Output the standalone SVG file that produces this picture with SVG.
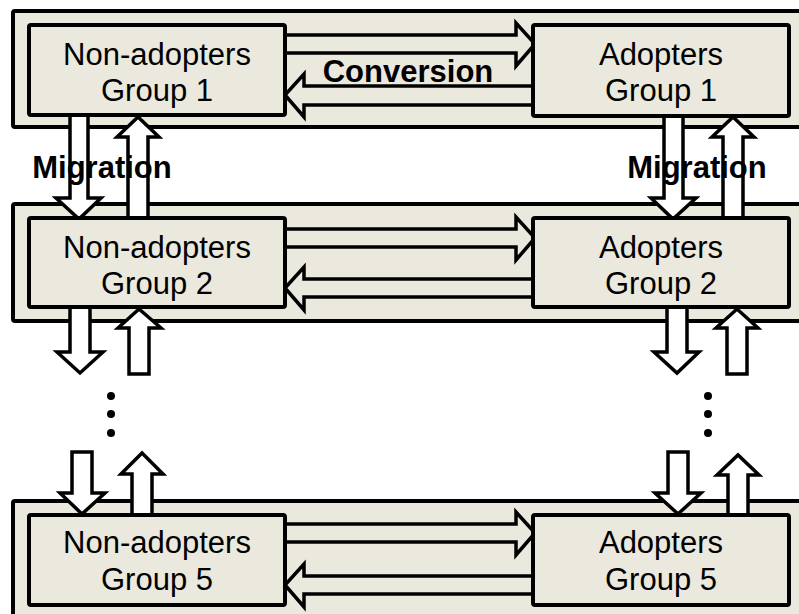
<svg xmlns="http://www.w3.org/2000/svg" width="799" height="614" viewBox="0 0 799 614">
<style>
.band{fill:#ebe8de;stroke:#000;stroke-width:4}
.box{fill:#ebe8de;stroke:#000;stroke-width:4}
.harr{fill:#ebe8de;stroke:#000;stroke-width:3.5;stroke-linejoin:miter}
.varr{fill:#fff;stroke:#000;stroke-width:3.5;stroke-linejoin:miter}
.t{font-family:"Liberation Sans",Arial,sans-serif;font-size:31px;fill:#000;text-anchor:middle}
.b{font-family:"Liberation Sans",Arial,sans-serif;font-size:31px;font-weight:bold;fill:#000;text-anchor:middle}
</style>
<rect width="799" height="614" fill="#fff"/>
<g id="bands">
<rect class="band" x="13" y="11" width="800" height="116" rx="2"/>
<rect class="band" x="13" y="204" width="800" height="117" rx="2"/>
<rect class="band" x="13" y="501" width="800" height="130" rx="2"/>
</g>
<g id="connectors">
<path class="harr" d="M285,35 H516 V23 L535,44 L516,66 V53 H285 Z"/>
<path class="harr" d="M533,86 H304 V74 L285,95 L304,117 V105 H533 Z"/>
<path class="harr" d="M285,229 H516 V217 L535,238 L516,260 V247 H285 Z"/>
<path class="harr" d="M533,279 H304 V267 L285,288 L304,310 V297 H533 Z"/>
<path class="harr" d="M285,524 H516 V512 L535,533 L516,555 V542 H285 Z"/>
<path class="harr" d="M533,576 H304 V564 L285,585 L304,607 V594 H533 Z"/>
<path class="varr" d="M70,115 V198 H56 L79,219 L101,198 H88 V115 Z"/>
<path class="varr" d="M128,219 V137 H117 L138,117 L159,137 H148 V219 Z"/>
<path class="varr" d="M664,116 V198 H651 L673,219 L696,198 H683 V116 Z"/>
<path class="varr" d="M723,218 V137 H712 L733,117 L754,137 H743 V218 Z"/>
<path class="varr" d="M70,307 V352 H57 L80,373 L103,352 H90 V307 Z"/>
<path class="varr" d="M129,374 V328 H118 L139,309 L161,328 H149 V374 Z"/>
<path class="varr" d="M667,307 V352 H654 L677,373 L699,352 H687 V307 Z"/>
<path class="varr" d="M727,374 V328 H716 L737,309 L758,328 H747 V374 Z"/>
<path class="varr" d="M72,452 V493 H60 L82,514 L105,493 H92 V452 Z"/>
<path class="varr" d="M132,515 V474 H121 L142,453 L163,474 H152 V515 Z"/>
<path class="varr" d="M668,452 V493 H655 L678,514 L701,493 H688 V452 Z"/>
<path class="varr" d="M728,515 V475 H717 L738,455 L759,475 H748 V515 Z"/>
<circle cx="111" cy="396" r="4"/>
<circle cx="111" cy="414" r="4"/>
<circle cx="111" cy="433" r="4"/>
<circle cx="708" cy="396" r="4"/>
<circle cx="708" cy="414" r="4"/>
<circle cx="708" cy="433" r="4"/>
</g>
<g id="na1"><rect class="box" x="29" y="25" width="256" height="90" rx="2"/><text class="t" x="157" y="65">Non-adopters</text><text class="t" x="157" y="101">Group 1</text></g>
<g id="a1"><rect class="box" x="533" y="25" width="256" height="91" rx="2"/><text class="t" x="661" y="65">Adopters</text><text class="t" x="661" y="101">Group 1</text></g>
<g id="na2"><rect class="box" x="29" y="218" width="256" height="89" rx="2"/><text class="t" x="157" y="258">Non-adopters</text><text class="t" x="157" y="294">Group 2</text></g>
<g id="a2"><rect class="box" x="533" y="218" width="256" height="89" rx="2"/><text class="t" x="661" y="258">Adopters</text><text class="t" x="661" y="294">Group 2</text></g>
<g id="na5"><rect class="box" x="29" y="515" width="256" height="90" rx="2"/><text class="t" x="157" y="553">Non-adopters</text><text class="t" x="157" y="590">Group 5</text></g>
<g id="a5"><rect class="box" x="533" y="515" width="256" height="90" rx="2"/><text class="t" x="661" y="553">Adopters</text><text class="t" x="661" y="590">Group 5</text></g>
<g id="labels">
<text class="b" x="408" y="82">Conversion</text>
<text class="b" x="102" y="178">Migration</text>
<text class="b" x="697" y="178">Migration</text>
</g>
</svg>
